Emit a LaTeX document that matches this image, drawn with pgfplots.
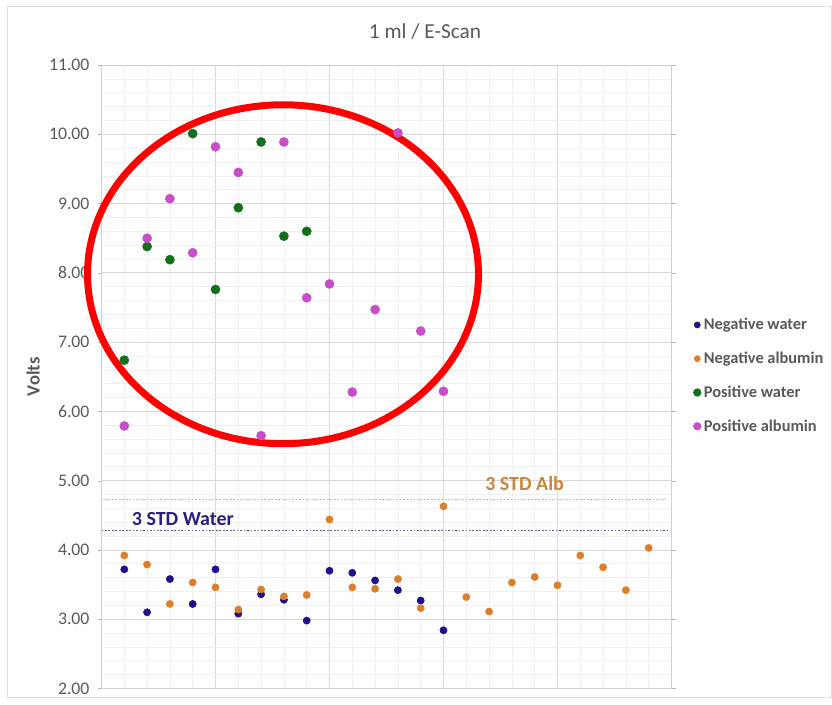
\documentclass[border=0pt]{standalone}
\usepackage{fontspec}
\setmainfont{Carlito}
\usepackage{pgfplots}
\pgfplotsset{compat=1.18}
\definecolor{nw}{HTML}{1F0F8F}
\definecolor{na}{HTML}{DC7F2A}
\definecolor{pw}{HTML}{11701B}
\definecolor{pa}{HTML}{C84DC8}
\definecolor{txt}{HTML}{595959}
\definecolor{stdw}{HTML}{2A1F7F}
\definecolor{stda}{HTML}{C8873C}
\definecolor{stdwl}{HTML}{5E5A9A}
\definecolor{stdal}{HTML}{F0AA6E}
\begin{document}
\begin{tikzpicture}
\path[use as bounding box] (0,0) rectangle (624pt,528pt);
\draw[gray!25] (5.25pt,5.25pt) rectangle (623.6pt,523.5pt);
\node[text=txt, font=\fontsize{16}{19}\selectfont] at (318.75pt,504pt) {1 ml / E-Scan};
\begin{axis}[
  at={(76.125pt,11.625pt)}, anchor=south west,
  scale only axis, width=427.5pt, height=467.6pt,
  xmin=0, xmax=25, ymin=2, ymax=11,
  xtick={0,5,...,25}, xticklabels={},
  ytick={2,3,...,11},
  minor x tick num=4, minor y tick num=4,
  grid=both,
  major grid style={color=black!15, line width=0.6pt},
  minor grid style={color=black!6, line width=0.5pt},
  axis line style={black!18},
  tick align=outside, major tick length=3pt, minor tick length=0pt,
  xtick style={draw=none},
  ytick style={black!30},
  yticklabel style={font=\fontsize{13.3}{15}\selectfont, text=txt, xshift=-2.5pt},
  /pgf/number format/assume math mode=true,
  /pgf/number format/fixed, /pgf/number format/fixed zerofill, /pgf/number format/precision=2,
  ylabel={Volts},
  ylabel style={at={(axis description cs:-0.12,0.5)}, anchor=center, font=\bfseries\fontsize{14}{16}\selectfont, text=txt},
  clip=false,
  legend style={at={(axis description cs:1.031,0.603)}, anchor=north west, draw=none, fill=none,
    font=\bfseries\fontsize{12.3}{14}\selectfont, text=txt, row sep=11.2pt},
  legend cell align=left,
  legend image code/.code={\draw[mark repeat=2,mark phase=2,#1] plot coordinates {(0cm,0cm)(0.12cm,0cm)(0.24cm,0cm)};},
  legend image post style={scale=0.85},
]
\draw[red, line width=5.25pt] (axis cs:7.96,7.98) ellipse [x radius=146.6pt, y radius=127.1pt];
\addplot[only marks, mark=*, mark size=2.7pt, color=nw] coordinates {
(1,3.72) (2,3.10) (3,3.58) (4,3.22) (5,3.72) (6,3.08) (7,3.36) (8,3.28) (9,2.98) (10,3.70)
(11,3.67) (12,3.56) (13,3.42) (14,3.27) (15,2.84)};
\addlegendentry{Negative water}
\addplot[only marks, mark=*, mark size=2.7pt, color=na] coordinates {
(1,3.92) (2,3.79) (3,3.22) (4,3.53) (5,3.46) (6,3.14) (7,3.43) (8,3.33) (9,3.35) (10,4.44)
(11,3.46) (12,3.44) (13,3.58) (14,3.16) (15,4.63) (16,3.32) (17,3.11) (18,3.53) (19,3.61) (20,3.49)
(21,3.92) (22,3.75) (23,3.42) (24,4.03)};
\addlegendentry{Negative albumin}
\addplot[only marks, mark=*, mark size=3.4pt, color=pw] coordinates {
(1,6.74) (2,8.38) (3,8.19) (4,10.01) (5,7.76) (6,8.94) (7,9.89) (8,8.53) (9,8.60)};
\addlegendentry{Positive water}
\addplot[only marks, mark=*, mark size=3.4pt, color=pa] coordinates {
(1,5.79) (2,8.50) (3,9.07) (4,8.29) (5,9.82) (6,9.45) (7,5.65) (8,9.89) (9,7.64) (10,7.84)
(11,6.28) (12,7.47) (13,10.02) (14,7.16) (15,6.29)};
\addlegendentry{Positive albumin}
\addplot[forget plot, color=stdal, line width=1.2pt, dash pattern=on 1.3pt off 1.3pt] coordinates {(0,4.73) (24.7,4.73)};
\addplot[forget plot, color=stdwl, line width=1.2pt, dash pattern=on 1.3pt off 1.3pt] coordinates {(0,4.28) (24.8,4.28)};
\node[anchor=base west, inner sep=0pt, text=stdw, font=\bfseries\fontsize{15}{17}\selectfont] at (axis cs:1.32,4.353) {3 STD Water};
\node[anchor=base west, inner sep=0pt, text=stda, font=\bfseries\fontsize{15}{17}\selectfont] at (axis cs:16.82,4.858) {3 STD Alb};
\end{axis}
\end{tikzpicture}
\end{document}
